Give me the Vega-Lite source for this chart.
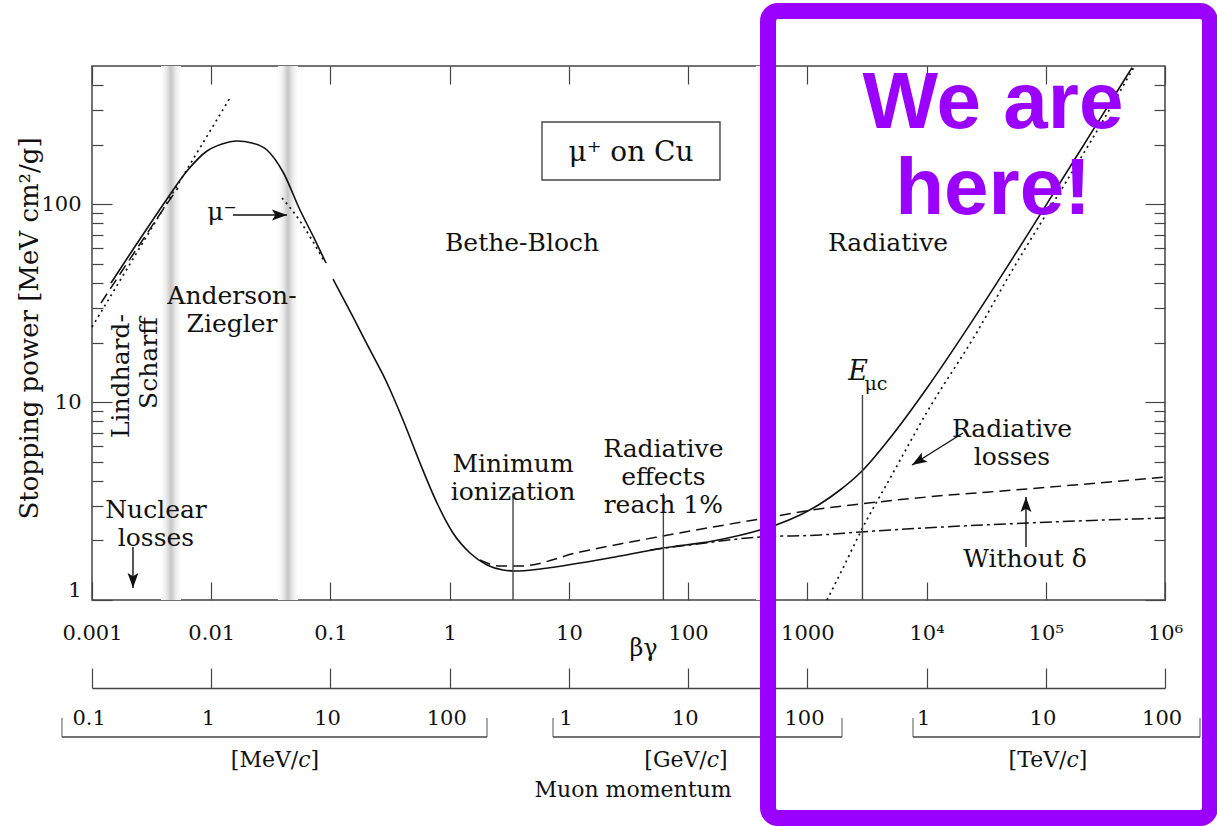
{
  "$schema": "https://vega.github.io/schema/vega-lite/v6.json",
  "width": 1073,
  "height": 534,
  "autosize": {"type": "none"},
  "padding": {"left": 92, "top": 66, "right": 52, "bottom": 226},
  "background": "white",
  "config": {
    "view": {"stroke": "#444", "strokeWidth": 1.5},
    "axis": {
      "grid": false,
      "domain": false,
      "tickColor": "#444",
      "tickWidth": 1.2,
      "labelFont": "DejaVu Serif",
      "labelFontSize": 21,
      "labelColor": "#111",
      "labelOverlap": false,
      "titleFont": "DejaVu Serif",
      "titleFontWeight": "normal",
      "titleColor": "#111"
    },
    "text": {"font": "DejaVu Serif", "fontSize": 25, "color": "#111"}
  },
  "datasets": {
    "bands": [
      {"lo": 0.003791, "hi": 0.005579},
      {"lo": 0.03631, "hi": 0.05342},
      {"lo": 371, "hi": 546}
    ],
    "curves": [
      {"curve": "total", "seg": "a", "bg": 0.0014435, "sp": 40.02},
      {"curve": "total", "seg": "a", "bg": 0.002083, "sp": 56.08},
      {"curve": "total", "seg": "a", "bg": 0.003066, "sp": 79.5},
      {"curve": "total", "seg": "a", "bg": 0.004257, "sp": 106.4},
      {"curve": "total", "seg": "a", "bg": 0.006264, "sp": 147.3},
      {"curve": "total", "seg": "a", "bg": 0.009217, "sp": 185.9},
      {"curve": "total", "seg": "a", "bg": 0.012314, "sp": 201.7},
      {"curve": "total", "seg": "a", "bg": 0.016452, "sp": 208.9},
      {"curve": "total", "seg": "a", "bg": 0.021981, "sp": 204.1},
      {"curve": "total", "seg": "a", "bg": 0.029367, "sp": 188.1},
      {"curve": "total", "seg": "a", "bg": 0.04, "sp": 145.6},
      {"curve": "total", "seg": "a", "bg": 0.05554, "sp": 93.6},
      {"curve": "total", "seg": "a", "bg": 0.07279, "sp": 67.6},
      {"curve": "total", "seg": "a", "bg": 0.09178, "sp": 50.5},
      {"curve": "total", "seg": "b", "bg": 0.10506, "sp": 41.9},
      {"curve": "total", "seg": "b", "bg": 0.15459, "sp": 26.94},
      {"curve": "total", "seg": "b", "bg": 0.21468, "sp": 18.35},
      {"curve": "total", "seg": "b", "bg": 0.29811, "sp": 12.5},
      {"curve": "total", "seg": "b", "bg": 0.40604, "sp": 8.124},
      {"curve": "total", "seg": "b", "bg": 0.5638, "sp": 4.925},
      {"curve": "total", "seg": "b", "bg": 0.7829, "sp": 3.092},
      {"curve": "total", "seg": "b", "bg": 1.0665, "sp": 2.181},
      {"curve": "total", "seg": "b", "bg": 1.481, "sp": 1.728},
      {"curve": "total", "seg": "b", "bg": 2.057, "sp": 1.503},
      {"curve": "total", "seg": "b", "bg": 2.801, "sp": 1.418},
      {"curve": "total", "seg": "b", "bg": 3.532, "sp": 1.401},
      {"curve": "total", "seg": "b", "bg": 5.724, "sp": 1.434},
      {"curve": "total", "seg": "b", "bg": 12.39, "sp": 1.538},
      {"curve": "total", "seg": "b", "bg": 26.84, "sp": 1.669},
      {"curve": "total", "seg": "b", "bg": 61.57, "sp": 1.832},
      {"curve": "total", "seg": "b", "bg": 161.7, "sp": 1.987},
      {"curve": "total", "seg": "b", "bg": 400.9, "sp": 2.258},
      {"curve": "total", "seg": "b", "bg": 546, "sp": 2.394},
      {"curve": "total", "seg": "b", "bg": 867.9, "sp": 2.689},
      {"curve": "total", "seg": "b", "bg": 1277, "sp": 3.057},
      {"curve": "total", "seg": "b", "bg": 1880, "sp": 3.597},
      {"curve": "total", "seg": "b", "bg": 2820, "sp": 4.436},
      {"curve": "total", "seg": "b", "bg": 5231, "sp": 6.886},
      {"curve": "total", "seg": "b", "bg": 10087, "sp": 11.79},
      {"curve": "total", "seg": "b", "bg": 23144, "sp": 24.72},
      {"curve": "total", "seg": "b", "bg": 50120, "sp": 50.86},
      {"curve": "total", "seg": "b", "bg": 102400, "sp": 100.82},
      {"curve": "total", "seg": "b", "bg": 234950, "sp": 224.5},
      {"curve": "total", "seg": "b", "bg": 528760, "sp": 490.8},
      {"curve": "noDelta", "bg": 1.797, "sp": 1.593},
      {"curve": "noDelta", "bg": 2.644, "sp": 1.485},
      {"curve": "noDelta", "bg": 3.89, "sp": 1.485},
      {"curve": "noDelta", "bg": 12.39, "sp": 1.748},
      {"curve": "noDelta", "bg": 26.84, "sp": 1.919},
      {"curve": "noDelta", "bg": 61.57, "sp": 2.106},
      {"curve": "noDelta", "bg": 161.7, "sp": 2.339},
      {"curve": "noDelta", "bg": 400.9, "sp": 2.567},
      {"curve": "noDelta", "bg": 1094, "sp": 2.85},
      {"curve": "noDelta", "bg": 2766, "sp": 3.057},
      {"curve": "noDelta", "bg": 10087, "sp": 3.316},
      {"curve": "noDelta", "bg": 69580, "sp": 3.639},
      {"curve": "noDelta", "bg": 1000000, "sp": 4.185},
      {"curve": "azLow", "bg": 0.00119, "sp": 31.7},
      {"curve": "azLow", "bg": 0.001717, "sp": 44.44},
      {"curve": "azLow", "bg": 0.002527, "sp": 63.0},
      {"curve": "azLow", "bg": 0.003719, "sp": 89.32},
      {"curve": "azLow", "bg": 0.005264, "sp": 120.9},
      {"curve": "ionization", "bg": 47.9, "sp": 1.789},
      {"curve": "ionization", "bg": 103.7, "sp": 1.897},
      {"curve": "ionization", "bg": 400.9, "sp": 2.082},
      {"curve": "ionization", "bg": 1277, "sp": 2.131},
      {"curve": "ionization", "bg": 2766, "sp": 2.207},
      {"curve": "ionization", "bg": 69580, "sp": 2.45},
      {"curve": "ionization", "bg": 1000000, "sp": 2.597},
      {"curve": "radiative", "bg": 1462, "sp": 1.0},
      {"curve": "radiative", "bg": 2030, "sp": 1.485},
      {"curve": "radiative", "bg": 2820, "sp": 2.232},
      {"curve": "radiative", "bg": 5231, "sp": 4.385},
      {"curve": "radiative", "bg": 10087, "sp": 8.916},
      {"curve": "radiative", "bg": 26493, "sp": 22.62},
      {"curve": "radiative", "bg": 50120, "sp": 44.44},
      {"curve": "radiative", "bg": 108510, "sp": 95.78},
      {"curve": "radiative", "bg": 239540, "sp": 208.9},
      {"curve": "radiative", "bg": 549500, "sp": 494.2},
      {"curve": "lindhard", "bg": 0.001, "sp": 23.98},
      {"curve": "lindhard", "bg": 0.014372, "sp": 344.6},
      {"curve": "muminus", "bg": 0.039237, "sp": 107.6},
      {"curve": "muminus", "bg": 0.05554, "sp": 82.33},
      {"curve": "muminus", "bg": 0.07004, "sp": 66.0},
      {"curve": "muminus", "bg": 0.0883, "sp": 51.69}
    ],
    "markers": [
      {"bg": 3.4, "base": 1, "top": 3.474},
      {"bg": 62, "base": 1, "top": 3.474},
      {"bg": 2900, "base": 1, "top": 10.87}
    ],
    "notes": [
      {"bg": 4.044, "sp": 63.7, "text": "Bethe-Bloch"},
      {"bg": 4750, "sp": 63.7, "text": "Radiative"},
      {"bg": 0.01494, "sp": 34.4, "text": "Anderson-\nZiegler"},
      {"bg": 0.003441, "sp": 2.851, "text": "Nuclear\nlosses"},
      {"bg": 3.4, "sp": 4.869, "text": "Minimum\nionization"},
      {"bg": 62, "sp": 5.797, "text": "Radiative\neffects\nreach 1%"},
      {"bg": 52090, "sp": 7.316, "text": "Radiative\nlosses"},
      {"bg": 66940, "sp": 1.611, "text": "Without δ"},
      {"bg": 0.0123, "sp": 91.4, "text": "μ⁻"}
    ],
    "sideways": [
      {"bg": 0.001751, "sp": 27.9, "text": "Lindhard-"},
      {"bg": 0.003007, "sp": 26.9, "text": "Scharff"}
    ],
    "titlebox": [
      {"lo": 5.95, "hi": 185.1, "bottom": 132.7, "top": 260.6, "cx": 33.19, "cy": 181.7, "text": "μ⁺ on Cu"}
    ],
    "emuc": [
      {"bg": 2661, "sp": 14.2, "text": "E"},
      {"bg": 3766, "sp": 12.35, "text": "μc"}
    ],
    "arrows": [
      {"id": "mu", "x1": 0.015232, "y1": 88.3, "x2": 0.04321, "y2": 88.3},
      {"id": "nuc", "x1": 0.002207, "y1": 1.853, "x2": 0.002207, "y2": 1.15},
      {"id": "rad", "x1": 20220, "y1": 6.985, "x2": 7549, "y2": 4.812},
      {"id": "delta", "x1": 68230, "y1": 1.853, "x2": 68230, "y2": 3.317}
    ],
    "brackets": [
      {"unit": "MeV/c", "lo": 0.00056, "hi": 2.057},
      {"unit": "GeV/c", "lo": 7.357, "hi": 1953},
      {"unit": "TeV/c", "lo": 7695, "hi": 1966000}
    ],
    "momentum": [
      {"bg": 0.000946, "text": "0.1"},
      {"bg": 0.00946, "text": "1"},
      {"bg": 0.0946, "text": "10"},
      {"bg": 0.946, "text": "100"},
      {"bg": 9.464, "text": "1"},
      {"bg": 94.64, "text": "10"},
      {"bg": 946.4, "text": "100"},
      {"bg": 9464, "text": "1"},
      {"bg": 94640, "text": "10"},
      {"bg": 946400, "text": "100"}
    ],
    "units": [
      {"bg": 0.03428, "text": "[MeV/𝑐]"},
      {"bg": 96, "text": "[GeV/𝑐]"},
      {"bg": 104400, "text": "[TeV/𝑐]"}
    ],
    "highlight": [
      {"x1": 468, "x2": 2385000, "y1": 0.0791, "y2": 948.5}
    ],
    "herelabel": [
      {"bg": 36080, "sp": 243.0, "text": "We are"},
      {"bg": 36080, "sp": 89.3, "text": "here!"}
    ]
  },
  "resolve": {"axis": {"x": "independent", "y": "independent"}},
  "layer": [
    {
      "data": {"name": "bands"},
      "mark": {
        "type": "rect",
        "color": {
          "gradient": "linear",
          "x1": 0, "y1": 0, "x2": 1, "y2": 0,
          "stops": [
            {"offset": 0, "color": "#ffffff"},
            {"offset": 0.25, "color": "#ececec"},
            {"offset": 0.42, "color": "#d2d2d2"},
            {"offset": 0.5, "color": "#c6c6c6"},
            {"offset": 0.58, "color": "#d2d2d2"},
            {"offset": 0.75, "color": "#ececec"},
            {"offset": 1, "color": "#ffffff"}
          ]
        }
      },
      "encoding": {
        "x": {"field": "lo", "type": "quantitative", "scale": {"type": "log", "domain": [0.001, 1000000], "nice": false}, "axis": null},
        "x2": {"field": "hi"}
      }
    },
    {
      "data": {"name": "curves"},
      "transform": [{"filter": "datum.curve === 'total'"}],
      "mark": {"type": "line", "color": "#111", "strokeWidth": 1.6, "interpolate": "monotone"},
      "encoding": {
        "x": {
          "field": "bg", "type": "quantitative",
          "scale": {"type": "log", "domain": [0.001, 1000000], "nice": false},
          "axis": {
            "orient": "bottom",
            "values": [0.001, 0.01, 0.1, 1, 10, 100, 1000, 10000, 100000, 1000000],
            "format": "~g",
            "labelExpr": "datum.value >= 1e6 ? '10⁶' : datum.value >= 1e5 ? '10⁵' : datum.value >= 1e4 ? '10⁴' : datum.label",
            "tickSize": -18,
            "labelPadding": 40,
            "labelFlush": false,
            "title": "βγ",
            "titleX": 551,
            "titleY": 48,
            "titleAngle": 0,
            "titleAlign": "center",
            "titleBaseline": "middle",
            "titleFontSize": 24
          }
        },
        "y": {
          "field": "sp", "type": "quantitative",
          "scale": {"type": "log", "domain": [1, 500], "nice": false},
          "axis": {
            "orient": "left",
            "values": [1, 10, 100],
            "format": "~g",
            "tickSize": -20,
            "labelPadding": 31,
            "labelFlush": true,
            "title": "Stopping power [MeV cm²/g]",
            "titleX": -63,
            "titleY": 262,
            "titleAngle": 270,
            "titleAlign": "center",
            "titleBaseline": "middle",
            "titleFontSize": 26
          }
        },
        "detail": {"field": "seg", "type": "nominal"}
      }
    },
    {
      "data": {"name": "curves"},
      "transform": [{"filter": "datum.curve === 'noDelta' || datum.curve === 'azLow'"}],
      "mark": {"type": "line", "color": "#111", "strokeWidth": 1.5, "strokeDash": [11, 6], "interpolate": "monotone"},
      "encoding": {
        "x": {
          "field": "bg", "type": "quantitative",
          "scale": {"type": "log", "domain": [0.001, 1000000], "nice": false},
          "axis": {
            "orient": "top",
            "values": [0.001, 0.01, 0.1, 1, 10, 100, 1000, 10000, 100000, 1000000],
            "tickSize": -18,
            "labels": false,
            "title": null
          }
        },
        "y": {
          "field": "sp", "type": "quantitative",
          "scale": {"type": "log", "domain": [1, 500], "nice": false},
          "axis": {"orient": "right", "values": [1, 10, 100], "tickSize": -20, "labels": false, "title": null}
        },
        "detail": {"field": "curve", "type": "nominal"}
      }
    },
    {
      "data": {"name": "curves"},
      "transform": [{"filter": "datum.curve === 'ionization'"}],
      "mark": {"type": "line", "color": "#111", "strokeWidth": 1.5, "strokeDash": [12, 4, 3, 4], "interpolate": "monotone"},
      "encoding": {
        "x": {
          "field": "bg", "type": "quantitative",
          "scale": {"type": "log", "domain": [0.001, 1000000], "nice": false},
          "axis": {
            "orient": "bottom",
            "offset": 88,
            "values": [0.001, 0.01, 0.1, 1, 10, 100, 1000, 10000, 100000, 1000000],
            "tickSize": -20,
            "labels": false,
            "domain": true,
            "domainColor": "#444",
            "domainWidth": 1.3,
            "title": null
          }
        },
        "y": {
          "field": "sp", "type": "quantitative",
          "scale": {"type": "log", "domain": [1, 500], "nice": false},
          "axis": {
            "orient": "left",
            "values": [2, 3, 4, 5, 6, 7, 8, 9, 20, 30, 40, 50, 60, 70, 80, 90, 200, 300, 400],
            "tickSize": -11,
            "labels": false,
            "title": null
          }
        }
      }
    },
    {
      "data": {"name": "curves"},
      "transform": [{"filter": "datum.curve === 'radiative' || datum.curve === 'lindhard' || datum.curve === 'muminus'"}],
      "mark": {"type": "line", "color": "#111", "strokeWidth": 1.7, "strokeDash": [2, 4], "interpolate": "monotone"},
      "encoding": {
        "x": {"field": "bg", "type": "quantitative", "scale": {"type": "log", "domain": [0.001, 1000000], "nice": false}, "axis": null},
        "y": {
          "field": "sp", "type": "quantitative",
          "scale": {"type": "log", "domain": [1, 500], "nice": false},
          "axis": {
            "orient": "right",
            "values": [2, 3, 4, 5, 6, 7, 8, 9, 20, 30, 40, 50, 60, 70, 80, 90, 200, 300, 400],
            "tickSize": -11,
            "labels": false,
            "title": null
          }
        },
        "detail": {"field": "curve", "type": "nominal"}
      }
    },
    {
      "data": {"name": "markers"},
      "mark": {"type": "rule", "color": "#444", "strokeWidth": 1.4},
      "encoding": {
        "x": {"field": "bg", "type": "quantitative", "scale": {"type": "log", "domain": [0.001, 1000000], "nice": false}, "axis": null},
        "y": {"field": "base", "type": "quantitative", "scale": {"type": "log", "domain": [1, 500], "nice": false}, "axis": null},
        "y2": {"field": "top"}
      }
    },
    {
      "data": {"name": "notes"},
      "mark": {"type": "text", "align": "center", "baseline": "middle", "lineBreak": "\n", "lineHeight": 28, "fontSize": 25},
      "encoding": {
        "x": {"field": "bg", "type": "quantitative", "scale": {"type": "log", "domain": [0.001, 1000000], "nice": false}, "axis": null},
        "y": {"field": "sp", "type": "quantitative", "scale": {"type": "log", "domain": [1, 500], "nice": false}, "axis": null},
        "text": {"field": "text", "type": "nominal"}
      }
    },
    {
      "data": {"name": "sideways"},
      "mark": {"type": "text", "align": "right", "baseline": "middle", "angle": 270, "fontSize": 25},
      "encoding": {
        "x": {"field": "bg", "type": "quantitative", "scale": {"type": "log", "domain": [0.001, 1000000], "nice": false}, "axis": null},
        "y": {"field": "sp", "type": "quantitative", "scale": {"type": "log", "domain": [1, 500], "nice": false}, "axis": null},
        "text": {"field": "text", "type": "nominal"}
      }
    },
    {
      "data": {"name": "titlebox"},
      "mark": {"type": "rect", "filled": false, "color": "#444", "strokeWidth": 1.4},
      "encoding": {
        "x": {"field": "lo", "type": "quantitative", "scale": {"type": "log", "domain": [0.001, 1000000], "nice": false}, "axis": null},
        "x2": {"field": "hi"},
        "y": {"field": "bottom", "type": "quantitative", "scale": {"type": "log", "domain": [1, 500], "nice": false}, "axis": null},
        "y2": {"field": "top"}
      }
    },
    {
      "data": {"name": "titlebox"},
      "mark": {"type": "text", "align": "center", "baseline": "middle", "fontSize": 28},
      "encoding": {
        "x": {"field": "cx", "type": "quantitative", "scale": {"type": "log", "domain": [0.001, 1000000], "nice": false}, "axis": null},
        "y": {"field": "cy", "type": "quantitative", "scale": {"type": "log", "domain": [1, 500], "nice": false}, "axis": null},
        "text": {"field": "text", "type": "nominal"}
      }
    },
    {
      "data": {"name": "emuc"},
      "transform": [{"filter": "datum.text === 'E'"}],
      "mark": {"type": "text", "align": "center", "baseline": "middle", "fontSize": 27, "fontStyle": "italic"},
      "encoding": {
        "x": {"field": "bg", "type": "quantitative", "scale": {"type": "log", "domain": [0.001, 1000000], "nice": false}, "axis": null},
        "y": {"field": "sp", "type": "quantitative", "scale": {"type": "log", "domain": [1, 500], "nice": false}, "axis": null},
        "text": {"field": "text", "type": "nominal"}
      }
    },
    {
      "data": {"name": "emuc"},
      "transform": [{"filter": "datum.text !== 'E'"}],
      "mark": {"type": "text", "align": "center", "baseline": "middle", "fontSize": 19},
      "encoding": {
        "x": {"field": "bg", "type": "quantitative", "scale": {"type": "log", "domain": [0.001, 1000000], "nice": false}, "axis": null},
        "y": {"field": "sp", "type": "quantitative", "scale": {"type": "log", "domain": [1, 500], "nice": false}, "axis": null},
        "text": {"field": "text", "type": "nominal"}
      }
    },
    {
      "data": {"name": "arrows"},
      "mark": {"type": "rule", "color": "#111", "strokeWidth": 1.4},
      "encoding": {
        "x": {"field": "x1", "type": "quantitative", "scale": {"type": "log", "domain": [0.001, 1000000], "nice": false}, "axis": null},
        "y": {"field": "y1", "type": "quantitative", "scale": {"type": "log", "domain": [1, 500], "nice": false}, "axis": null},
        "x2": {"field": "x2"},
        "y2": {"field": "y2"}
      }
    },
    {
      "data": {"name": "arrows"},
      "transform": [{"filter": "datum.id === 'mu'"}],
      "mark": {"type": "point", "shape": "M0,0L-1,-0.36L-0.78,0L-1,0.36Z", "filled": true, "color": "#111", "opacity": 1, "size": 900, "angle": 0},
      "encoding": {
        "x": {"field": "x2", "type": "quantitative", "scale": {"type": "log", "domain": [0.001, 1000000], "nice": false}, "axis": null},
        "y": {"field": "y2", "type": "quantitative", "scale": {"type": "log", "domain": [1, 500], "nice": false}, "axis": null}
      }
    },
    {
      "data": {"name": "arrows"},
      "transform": [{"filter": "datum.id === 'nuc'"}],
      "mark": {"type": "point", "shape": "M0,0L-1,-0.36L-0.78,0L-1,0.36Z", "filled": true, "color": "#111", "opacity": 1, "size": 900, "angle": 90},
      "encoding": {
        "x": {"field": "x2", "type": "quantitative", "scale": {"type": "log", "domain": [0.001, 1000000], "nice": false}, "axis": null},
        "y": {"field": "y2", "type": "quantitative", "scale": {"type": "log", "domain": [1, 500], "nice": false}, "axis": null}
      }
    },
    {
      "data": {"name": "arrows"},
      "transform": [{"filter": "datum.id === 'rad'"}],
      "mark": {"type": "point", "shape": "M0,0L-1,-0.36L-0.78,0L-1,0.36Z", "filled": true, "color": "#111", "opacity": 1, "size": 900, "angle": 148},
      "encoding": {
        "x": {"field": "x2", "type": "quantitative", "scale": {"type": "log", "domain": [0.001, 1000000], "nice": false}, "axis": null},
        "y": {"field": "y2", "type": "quantitative", "scale": {"type": "log", "domain": [1, 500], "nice": false}, "axis": null}
      }
    },
    {
      "data": {"name": "arrows"},
      "transform": [{"filter": "datum.id === 'delta'"}],
      "mark": {"type": "point", "shape": "M0,0L-1,-0.36L-0.78,0L-1,0.36Z", "filled": true, "color": "#111", "opacity": 1, "size": 900, "angle": 270},
      "encoding": {
        "x": {"field": "x2", "type": "quantitative", "scale": {"type": "log", "domain": [0.001, 1000000], "nice": false}, "axis": null},
        "y": {"field": "y2", "type": "quantitative", "scale": {"type": "log", "domain": [1, 500], "nice": false}, "axis": null}
      }
    },
    {
      "data": {"name": "brackets"},
      "mark": {"type": "rule", "color": "#444", "strokeWidth": 1.3},
      "encoding": {
        "x": {"field": "lo", "type": "quantitative", "scale": {"type": "log", "domain": [0.001, 1000000], "nice": false}, "axis": null},
        "x2": {"field": "hi"},
        "y": {"datum": 0.203, "type": "quantitative", "scale": {"type": "log", "domain": [1, 500], "nice": false}, "axis": null}
      }
    },
    {
      "data": {"name": "brackets"},
      "transform": [{"fold": ["lo", "hi"], "as": ["end", "edge"]}],
      "mark": {"type": "tick", "orient": "vertical", "color": "#444", "thickness": 1.3, "size": 19},
      "encoding": {
        "x": {"field": "edge", "type": "quantitative", "scale": {"type": "log", "domain": [0.001, 1000000], "nice": false}, "axis": null},
        "y": {"datum": 0.2267, "type": "quantitative", "scale": {"type": "log", "domain": [1, 500], "nice": false}, "axis": null}
      }
    },
    {
      "data": {"name": "momentum"},
      "mark": {"type": "text", "align": "center", "baseline": "middle", "fontSize": 21},
      "encoding": {
        "x": {"field": "bg", "type": "quantitative", "scale": {"type": "log", "domain": [0.001, 1000000], "nice": false}, "axis": null},
        "y": {"datum": 0.2503, "type": "quantitative", "scale": {"type": "log", "domain": [1, 500], "nice": false}, "axis": null},
        "text": {"field": "text", "type": "nominal"}
      }
    },
    {
      "data": {"name": "units"},
      "mark": {"type": "text", "align": "center", "baseline": "middle", "fontSize": 22},
      "encoding": {
        "x": {"field": "bg", "type": "quantitative", "scale": {"type": "log", "domain": [0.001, 1000000], "nice": false}, "axis": null},
        "y": {"datum": 0.1553, "type": "quantitative", "scale": {"type": "log", "domain": [1, 500], "nice": false}, "axis": null},
        "text": {"field": "text", "type": "nominal"}
      }
    },
    {
      "data": {"values": [{"bg": 34.5, "text": "Muon momentum"}]},
      "mark": {"type": "text", "align": "center", "baseline": "middle", "fontSize": 22},
      "encoding": {
        "x": {"field": "bg", "type": "quantitative", "scale": {"type": "log", "domain": [0.001, 1000000], "nice": false}, "axis": null},
        "y": {"datum": 0.1102, "type": "quantitative", "scale": {"type": "log", "domain": [1, 500], "nice": false}, "axis": null},
        "text": {"field": "text", "type": "nominal"}
      }
    },
    {
      "data": {"name": "highlight"},
      "mark": {"type": "rect", "filled": false, "color": "#9900ff", "strokeWidth": 16, "cornerRadius": 10},
      "encoding": {
        "x": {"field": "x1", "type": "quantitative", "scale": {"type": "log", "domain": [0.001, 1000000], "nice": false}, "axis": null},
        "x2": {"field": "x2"},
        "y": {"field": "y1", "type": "quantitative", "scale": {"type": "log", "domain": [1, 500], "nice": false}, "axis": null},
        "y2": {"field": "y2"}
      }
    },
    {
      "data": {"name": "herelabel"},
      "mark": {"type": "text", "align": "center", "baseline": "alphabetic", "font": "Liberation Sans", "fontWeight": "bold", "fontSize": 80, "color": "#9900ff"},
      "encoding": {
        "x": {"field": "bg", "type": "quantitative", "scale": {"type": "log", "domain": [0.001, 1000000], "nice": false}, "axis": null},
        "y": {"field": "sp", "type": "quantitative", "scale": {"type": "log", "domain": [1, 500], "nice": false}, "axis": null},
        "text": {"field": "text", "type": "nominal"}
      }
    }
  ]
}
